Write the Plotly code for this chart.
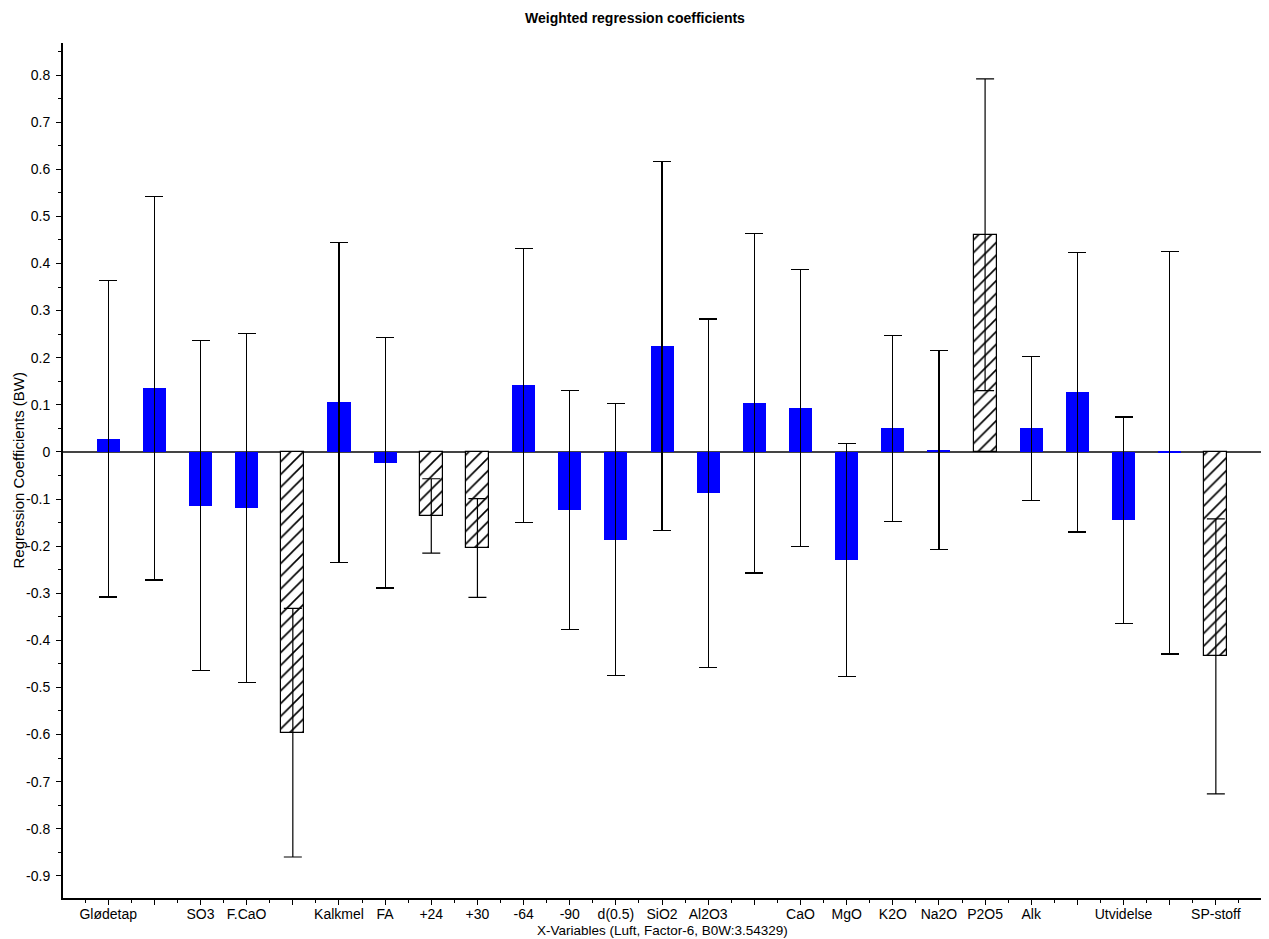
import plotly.graph_objects as go

labels = ["Glødetap", "", "SO3", "F.CaO", "", "Kalkmel", "FA", "+24", "+30", "-64",
          "-90", "d(0.5)", "SiO2", "Al2O3", "", "CaO", "MgO", "K2O", "Na2O", "P2O5",
          "Alk", "", "Utvidelse", "", "SP-stoff"]
coef = [0.028, 0.135, -0.114, -0.119, -0.596, 0.105, -0.023, -0.136, -0.204, 0.141,
        -0.123, -0.186, 0.225, -0.088, 0.103, 0.094, -0.230, 0.050, 0.004, 0.461,
        0.050, 0.127, -0.145, -0.002, -0.434]
half_err = [0.336, 0.407, 0.350, 0.371, 0.264, 0.339, 0.266, 0.079, 0.105, 0.291,
            0.254, 0.289, 0.392, 0.370, 0.360, 0.294, 0.247, 0.197, 0.212, 0.331,
            0.153, 0.297, 0.219, 0.427, 0.292]
significant = [False, False, False, False, True, False, False, True, True, False,
               False, False, False, False, False, False, False, False, False, True,
               False, False, False, False, True]

ytick_vals = [round(-0.9 + 0.1 * i, 1) for i in range(18)]
ytick_text = ["0" if abs(v) < 1e-9 else f"{v:.1f}" for v in ytick_vals]

xpos = list(range(1, len(labels) + 1))
blue_idx = [i for i, s in enumerate(significant) if not s]
hatch_idx = [i for i, s in enumerate(significant) if s]

fig = go.Figure()
fig.add_trace(go.Bar(
    x=[xpos[i] for i in blue_idx], y=[coef[i] for i in blue_idx], width=0.5,
    marker=dict(color="#0000FF", line=dict(width=0)),
    error_y=dict(type="data", array=[half_err[i] for i in blue_idx], visible=True,
                 color="black", thickness=1.2, width=9),
    showlegend=False))
fig.add_trace(go.Bar(
    x=[xpos[i] for i in hatch_idx], y=[coef[i] for i in hatch_idx], width=0.5,
    marker=dict(color="white", line=dict(color="black", width=1.2),
                pattern=dict(shape="/", fgcolor="black", bgcolor="white", size=9,
                             solidity=0.18, fgopacity=1)),
    error_y=dict(type="data", array=[half_err[i] for i in hatch_idx], visible=True,
                 color="black", thickness=1.2, width=9),
    showlegend=False))

fig.update_layout(
    width=1261, height=931,
    margin=dict(l=55, r=7, t=35, b=41),
    paper_bgcolor="white", plot_bgcolor="white",
    font=dict(family="Liberation Sans, Arial, sans-serif", size=14, color="black"),
    bargap=0,
    annotations=[
        dict(text="<b>Weighted regression coefficients</b>",
             x=(626.5 - 55) / (1261 - 55 - 7), xref="paper", xanchor="center",
             y=1, yref="paper", yshift=25, yanchor="middle",
             showarrow=False, font=dict(size=14)),
        dict(text="X-Variables (Luft, Factor-6, B0W:3.54329)", x=0.5, xref="paper",
             xanchor="center", y=0, yref="paper", yshift=-32, yanchor="middle",
             showarrow=False, font=dict(size=13.5)),
        dict(text="Regression Coefficients (BW)", x=0, xref="paper", xshift=-45,
             xanchor="center", y=0.5, yref="paper", yanchor="middle",
             textangle=-90, showarrow=False, font=dict(size=15)),
    ],
)
fig.update_xaxes(
    range=[0.02, 26], tickvals=xpos, ticktext=labels, automargin=False,
    showline=True, linecolor="black", linewidth=2, mirror=False,
    ticks="outside", ticklen=5, tickcolor="black", tickwidth=1,
    minor=dict(ticks="outside", ticklen=3, dtick=0.5, tick0=0.5, tickcolor="black"),
    showgrid=False, zeroline=False,
    tickfont=dict(size=14), ticklabelstandoff=-3,
)
fig.update_yaxes(
    range=[-0.947, 0.868], tickvals=ytick_vals, ticktext=ytick_text, automargin=False,
    showline=True, linecolor="black", linewidth=2,
    ticks="outside", ticklen=5, tickcolor="black", tickwidth=1,
    minor=dict(ticks="outside", ticklen=3, dtick=0.05, tick0=0, tickcolor="black"),
    showgrid=False, zeroline=True, zerolinecolor="#444444", zerolinewidth=1.5,
    tickfont=dict(size=14), ticklabelstandoff=3,
)
fig.write_html("out.html")
